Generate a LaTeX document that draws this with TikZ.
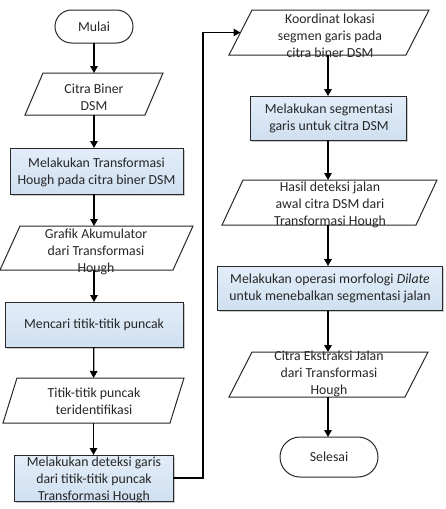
\documentclass[tikz,border=0pt]{standalone}
\usepackage{fontspec}
\setmainfont{Carlito}
\usetikzlibrary{arrows.meta,shadows}
\definecolor{bluetop}{RGB}{226,237,248}
\definecolor{bluebot}{RGB}{208,224,241}
\definecolor{edge}{RGB}{40,40,40}
\newcommand{\parashape}[2]{%
  \draw[base] ([xshift=#2]#1.north west) -- (#1.north east) -- ([xshift=-#2]#1.south east) -- (#1.south west) -- cycle;}
\begin{document}
\begin{tikzpicture}[x=1pt,y=-1pt,
  base/.style={draw=edge, line width=1pt, inner sep=0pt, outer sep=0pt},
  proc/.style={base, rectangle, top color=bluetop, bottom color=bluebot,
    drop shadow={shadow xshift=1.5pt, shadow yshift=-1.5pt, opacity=0.35, fill=black!60}},
  para/.style={rectangle, inner sep=0pt, outer sep=0pt},
  txt/.style={font=\fontsize{13.8}{17}\selectfont, align=center, inner sep=0pt, text=black!85},
  arr/.style={draw=black, line width=1.3pt, -{Triangle[length=7pt,width=7.5pt]}}]
\useasboundingbox (0,0) rectangle (446,509);

% left column
\node[base, rounded corners=16.5pt, minimum width=78pt, minimum height=33pt] (mulai) at (94,26.5) {};
\node[txt] (mulait) at (mulai) {Mulai};

\node[para, minimum width=138pt, minimum height=42pt] (p1) at (94,94) {};
\parashape{p1}{18pt}
\node[txt] (p1t) at (94,97) {Citra Biner\\DSM};

\node[proc, minimum width=173pt, minimum height=46pt] (b1) at (96.5,171) {};
\node[txt] (b1t) at (96.5,172.5) {Melakukan Transformasi\\Hough pada citra biner DSM};

\node[para, minimum width=193pt, minimum height=44pt] (p2) at (96.5,248) {};
\parashape{p2}{20pt}
\node[txt] (p2t) at (96,252) {Grafik Akumulator\\dari Transformasi\\Hough};

\node[proc, minimum width=178pt, minimum height=45pt] (b2) at (94,324.5) {};
\node[txt] (b2t) at (b2) {Mencari titik-titik puncak};

\node[para, minimum width=181pt, minimum height=45pt] (p3) at (93.5,400.5) {};
\parashape{p3}{14pt}
\node[txt] (p3t) at (94,401) {Titik-titik puncak\\teridentifikasi};

\node[proc, minimum width=159pt, minimum height=46pt] (b3) at (93.5,478) {};
\node[txt] (b3t) at (94,480) {Melakukan deteksi garis\\dari titik-titik puncak\\Transformasi Hough};

% right column
\node[para, minimum width=200pt, minimum height=45pt] (p4) at (329,32.5) {};
\parashape{p4}{23pt}
\node[txt] (p4t) at (330,36) {Koordinat lokasi\\segmen garis pada\\citra biner DSM};

\node[proc, minimum width=156pt, minimum height=44pt] (b4) at (328,118) {};
\node[txt] (b4t) at (329,118.5) {Melakukan segmentasi\\garis untuk citra DSM};

\node[para, minimum width=215pt, minimum height=45pt] (p5) at (329.5,202.5) {};
\parashape{p5}{21pt}
\node[txt] (p5t) at (330,204.5) {Hasil deteksi jalan\\awal citra DSM dari\\Transformasi Hough};

\node[proc, minimum width=225pt, minimum height=44pt] (b5) at (329.5,288) {};
\node[txt] (b5t) at (330,288.5) {Melakukan operasi morfologi \textit{Dilate}\\untuk menebalkan segmentasi jalan};

\node[para, minimum width=199pt, minimum height=45pt] (p6) at (328.5,374.5) {};
\parashape{p6}{23pt}
\node[txt] (p6t) at (329,374) {Citra Ekstraksi Jalan\\dari Transformasi\\Hough};

\node[base, rounded corners=20pt, minimum width=98pt, minimum height=40pt] (selesai) at (329,457) {};
\node[txt] (selesait) at (selesai) {Selesai};

% connectors
\draw[arr] (mulai) -- (p1);
\draw[arr] (p1) -- (p1 |- b1.north);
\draw[arr] (p1 |- b1.south) -- (p1 |- p2.north);
\draw[arr] (p1 |- p2.south) -- (b2);
\draw[arr] (b2) -- (p3);
\draw[arr] (p3) -- (b3);
\coordinate (loopx) at (203,0);
\draw[arr] (b3.east) -- (b3.east -| loopx) |- ([xshift=11.5pt]p4.west);
\draw[arr] (p4.south -| b4.north) -- (b4.north);
\draw[arr] (b4) -- (b4 |- p5.north);
\draw[arr] (b4 |- p5.south) -- (b4 |- b5.north);
\draw[arr] (b4 |- b5.south) -- (b4 |- p6.north);
\draw[arr] (b4 |- p6.south) -- (b4 |- selesai.north);
\end{tikzpicture}
\end{document}
